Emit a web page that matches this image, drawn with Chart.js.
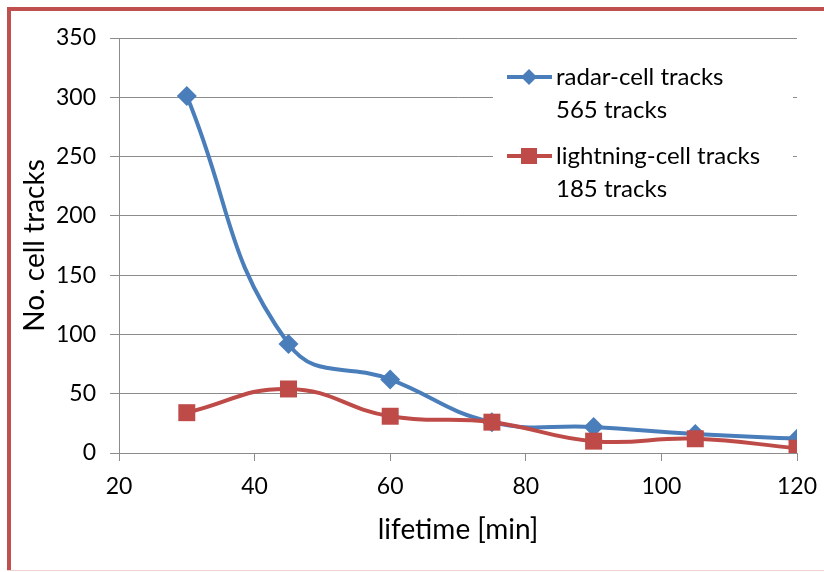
<!DOCTYPE html>
<html>
<head>
<meta charset="utf-8">
<script src="https://cdn.jsdelivr.net/npm/chart.js@4/dist/chart.umd.min.js"></script>
<style>
  html, body { margin: 0; padding: 0; background: #fff; overflow: hidden; }
  #c { display: block; }
</style>
</head>
<body>
<canvas id="c" width="824" height="572"></canvas>
<script>
const lifetimes = [30, 45, 60, 75, 90, 105, 120];
const radarTracks = [301, 92, 62, 26, 22, 16, 12];
const lightningTracks = [34, 54, 31, 26, 10, 12, 4];
const radarLabel = ["radar-cell tracks", "565 tracks"];
const lightningLabel = ["lightning-cell tracks", "185 tracks"];
const xTitle = "lifetime [min]";
const yTitle = "No. cell tracks";

const FONT = "Lato, 'Open Sans', sans-serif";
const BLUE = "#4A7EBB";
const RED = "#BE4B48";
const GRID = "#8C8C8C";

const framePlugin = {
  id: 'frame',
  beforeDraw(chart) {
    const ctx = chart.ctx;
    ctx.save();
    ctx.fillStyle = '#fff';
    ctx.fillRect(0, 0, chart.width, chart.height);
    ctx.fillStyle = '#C0504D';
    ctx.fillRect(7, 7, chart.width - 7, 4);
    ctx.fillRect(7, 7, 4, chart.height - 8);
    ctx.fillStyle = '#F0D2D2';
    ctx.fillRect(7, chart.height - 2, chart.width - 7, 1);
    ctx.restore();
  }
};

const legendPlugin = {
  id: 'customLegend',
  afterDatasetsDraw(chart) {
    const ctx = chart.ctx;
    ctx.save();
    ctx.fillStyle = '#fff';
    ctx.fillRect(493, 58, 300, 146);
    const items = [
      { ds: chart.data.datasets[0], y: 77 },
      { ds: chart.data.datasets[1], y: 156 }
    ];
    items.forEach(it => {
      const ds = it.ds;
      ctx.strokeStyle = ds.borderColor;
      ctx.lineWidth = 4;
      ctx.beginPath();
      ctx.moveTo(507, it.y);
      ctx.lineTo(552, it.y);
      ctx.stroke();
      ctx.fillStyle = ds.pointBackgroundColor;
      if (ds.pointStyle === 'rectRot') {
        const r = 8;
        ctx.beginPath();
        ctx.moveTo(529 - r, it.y);
        ctx.lineTo(529, it.y - r);
        ctx.lineTo(529 + r, it.y);
        ctx.lineTo(529, it.y + r);
        ctx.closePath();
        ctx.fill();
      } else {
        ctx.fillRect(529 - 8, it.y - 8, 16, 16);
      }
      ctx.fillStyle = '#000';
      ctx.font = "24px " + FONT;
      ctx.textBaseline = 'middle';
      ctx.textAlign = 'left';
      const lines = ds.label;
      lines.forEach((t, i) => ctx.fillText(t, 556, it.y + i * 33));
    });
    ctx.restore();
  }
};

new Chart(document.getElementById('c'), {
  type: 'line',
  data: {
    datasets: [
      {
        label: radarLabel,
        data: lifetimes.map((x, i) => ({ x: x, y: radarTracks[i] })),
        borderColor: BLUE,
        backgroundColor: BLUE,
        pointBackgroundColor: BLUE,
        pointBorderColor: BLUE,
        borderWidth: 4,
        pointStyle: 'rectRot',
        pointRadius: 10,
        pointBorderWidth: 0,
        tension: 0.45,
        order: 1
      },
      {
        label: lightningLabel,
        data: lifetimes.map((x, i) => ({ x: x, y: lightningTracks[i] })),
        borderColor: RED,
        backgroundColor: RED,
        pointBackgroundColor: RED,
        pointBorderColor: RED,
        borderWidth: 4,
        pointStyle: 'rect',
        pointRadius: 12,
        pointBorderWidth: 0,
        tension: 0.45,
        order: 0
      }
    ]
  },
  options: {
    responsive: false,
    devicePixelRatio: 1,
    animation: false,
    layout: { padding: { left: 0, right: 27, top: 38, bottom: 0 } },
    plugins: { legend: { display: false }, tooltip: { enabled: false } },
    scales: {
      x: {
        type: 'linear',
        min: 20, max: 120,
        afterFit(scale) { scale.height = 119; scale.paddingLeft = 0; scale.paddingRight = 0; },
        ticks: { stepSize: 20, color: '#000', font: { family: FONT, size: 23 }, padding: 12, maxRotation: 0 },
        grid: { display: true, drawOnChartArea: false, drawTicks: true, tickLength: 8, color: GRID },
        border: { display: true, color: GRID, width: 1 },
        title: { display: true, text: xTitle, color: '#000', font: { family: FONT, size: 28 }, padding: { top: 0, bottom: 25 } }
      },
      y: {
        min: 0, max: 350,
        afterFit(scale) { scale.width = 119; scale.paddingTop = 0; scale.paddingBottom = 0; },
        ticks: { stepSize: 50, color: '#000', font: { family: FONT, size: 23 }, padding: 14 },
        grid: { display: true, drawOnChartArea: true, drawTicks: true, tickLength: 9, color: GRID },
        border: { display: true, color: GRID, width: 1 },
        title: { display: true, text: yTitle, color: '#000', font: { family: FONT, size: 28 }, padding: { top: 18, bottom: 0 } }
      }
    }
  },
  plugins: [framePlugin, legendPlugin]
});
</script>
</body>
</html>
